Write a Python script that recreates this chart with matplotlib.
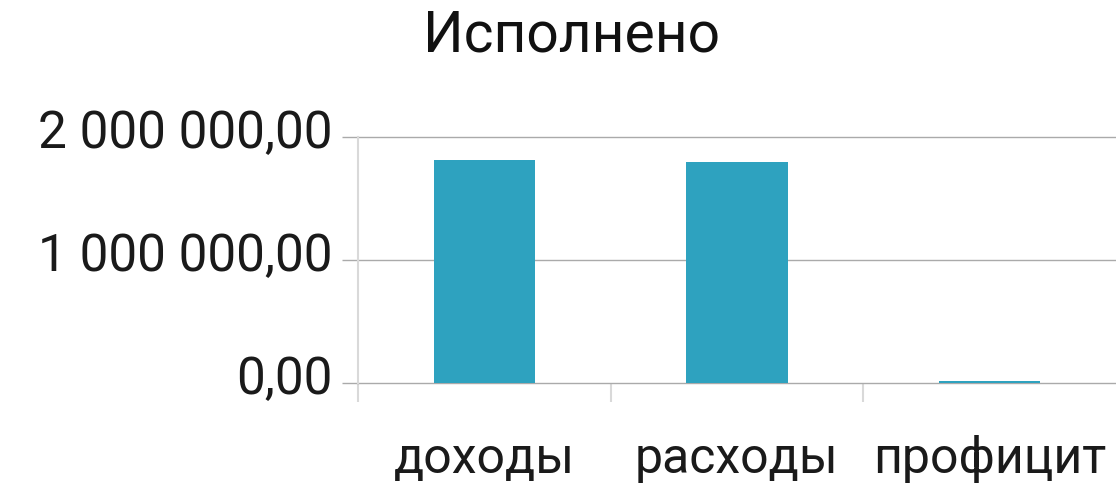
import matplotlib
matplotlib.use('Agg')
import matplotlib.pyplot as plt
import matplotlib.transforms as mtransforms
import numpy as np

# data
categories = ['доходы', 'расходы', 'профицит']
values = [1813000, 1797000, 15000]
yticks = [0, 1000000, 2000000]
ytick_labels = ['0,00', '1 000 000,00', '2 000 000,00']

plt.rcParams['font.family'] = ['Roboto', 'DejaVu Sans']

fig = plt.figure(figsize=(11.16, 4.85), dpi=100)
ax = fig.add_axes([358/1116, 101/485, 1 - 358/1116, (384-138)/485])

x = np.arange(len(categories))
ax.bar(x, values, width=0.4, color='#2ea2bf', zorder=3)

ax.set_xlim(-0.5, 2.5)
ax.set_ylim(0, 2000000)

# y axis: gridlines plus short gray ticks sticking out left
ax.set_yticks(yticks)
ax.set_yticklabels(ytick_labels, fontsize=37, color='#1a1a1a')
ax.tick_params(axis='y', length=11.5, width=1, color='#aaaaaa', pad=7)
ax.grid(axis='y', color='#aaaaaa', linewidth=1, zorder=0)
for gl in ax.get_ygridlines():
    gl.set_clip_on(False)
# labels sit a bit above their gridlines
up = mtransforms.ScaledTranslation(0, 9/100, fig.dpi_scale_trans)
for lab in ax.get_yticklabels():
    lab.set_transform(lab.get_transform() + up)

# x axis: labels at centres, tick marks between categories
ax.set_xticks(x)
ax.set_xticklabels(categories, fontsize=36, color='#1a1a1a')
ax.tick_params(axis='x', which='major', length=0, pad=37)
ax.set_xticks([-0.5, 0.5, 1.5], minor=True)
ax.tick_params(axis='x', which='minor', length=13.7, width=1.5, color='#d9d9d9')

for s in ['top', 'right', 'bottom']:
    ax.spines[s].set_visible(False)
ax.spines['left'].set_color('#d9d9d9')
ax.spines['left'].set_linewidth(1.5)

fig.text(572/1116, 1 - 8/485, 'Исполнено', ha='center', va='top', fontsize=41, color='#111111')

fig.savefig('out.png', dpi=100)
